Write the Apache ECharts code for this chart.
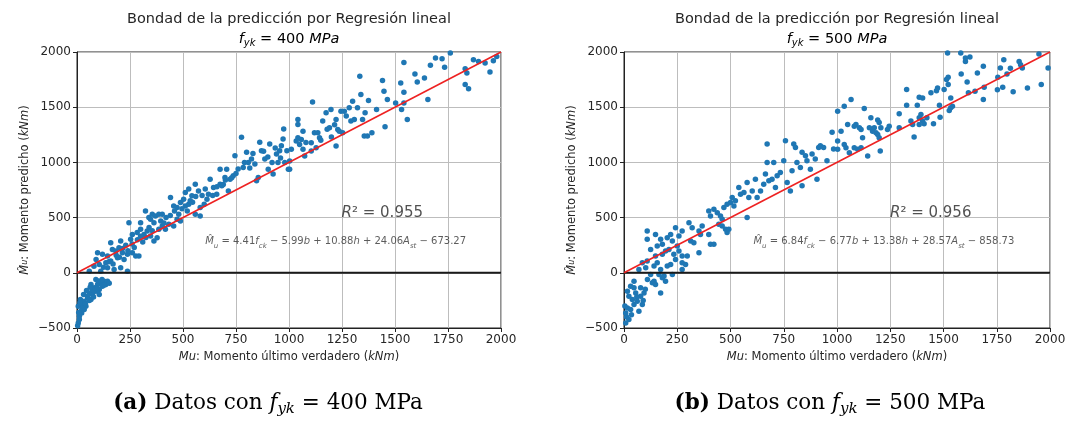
<!DOCTYPE html>
<html><head><meta charset="utf-8">
<script src="https://cdn.jsdelivr.net/npm/echarts@6/dist/echarts.min.js"></script>
<style>html,body{margin:0;padding:0;background:#fff}#c{width:1070px;height:421px}</style>
</head><body><div id="c"></div>
<script>
// ---------- data ----------
const xTicks = [0, 250, 500, 750, 1000, 1250, 1500, 1750, 2000];
const yTicks = [-500, 0, 500, 1000, 1500, 2000];
const fykValues = [400, 500];
const r2Values = ['0.955', '0.956'];
const coefs400 = ['4.41', '5.99', '10.88', '24.06', '673.27'];
const coefs500 = ['6.84', '6.77', '13.38', '28.57', '858.73'];
const identityLine = [[0, 0], [2000, 2000]];
const zeroLine = [[0, 0], [2000, 0]];

const points400 = [
[6,-455],[11,-394],[19,-348],[6,-303],[27,-288],[16,-242],[34,-258],[50,-227],[42,-303],[58,-182],[73,-197],[81,-136],[89,-167],[97,-106],[105,-152],[112,-91],[120,-121],[128,-76],[136,-106],[144,-76],[66,-242],[31,-197],[50,-212],[89,-61],[22,-364],[11,-424],[34,-333],[66,-106],[105,-197],[73,-152],[3,-480],[14,-270],[45,-160],[62,-130],[95,-140],[118,-60],[40,-280],[25,-320],[78,-220],[130,-110],[152,-95],[100,-75],[8,-360],[58,-250],
[58,15],[112,15],[144,45],[175,30],[206,45],[238,15],[105,76],[136,91],[159,106],[97,182],[120,167],[144,152],[167,212],[183,197],[198,227],[191,136],[222,121],[214,182],[238,167],[261,182],[277,152],[292,152],[159,273],[206,288],[253,303],[261,348],[284,364],[300,394],[316,348],[331,379],[347,333],[363,288],[378,318],[386,394],[402,424],[417,394],[433,439],[456,424],[472,485],[488,470],[245,454],[300,454],[323,560],[339,500],[355,530],[370,515],[386,530],[402,530],[347,485],[363,454],[441,682],[456,606],[472,591],[488,636],[503,667],[511,606],[527,621],[534,652],[511,727],[527,758],[542,697],[558,803],[573,742],[581,591],[581,515],[558,530],[605,758],[613,667],[620,712],[628,848],[644,773],[659,712],[675,803],[675,939],[683,788],[698,864],[706,939],[714,742],[722,848],[737,879],[745,1060],[776,1227],[784,954],[800,1091],[808,1000],[823,1030],[839,985],[847,833],[855,864],[862,1182],[870,1106],[886,1030],[902,939],[909,1167],[925,894],[941,1076],[948,1000],[956,1106],[964,1150],[972,1212],[975,1303],[990,1106],[997,939],
[80,60],[90,120],[125,50],[150,100],[170,80],[185,160],[200,140],[215,220],[230,250],[240,200],[260,260],[270,230],[285,300],[300,330],[310,280],[325,320],[340,410],[355,380],[395,470],[410,450],[420,500],[440,520],[460,560],[480,530],[495,580],[520,560],[545,640],[560,690],[590,700],[600,620],[640,700],[660,780],[690,800],[700,840],[730,860],[750,900],[760,940],[790,1000],[815,950],[830,1080],[880,1100],[900,1050],[920,1000],[935,1130],[960,1040],[980,1000],
[1003,1012],[1003,937],[1011,1118],[1034,1193],[1042,1223],[1058,1208],[1050,1163],[1066,1118],[1066,1283],[1042,1389],[1042,1343],[1074,1057],[1105,1178],[1105,1103],[1120,1268],[1136,1268],[1128,1133],[1144,1223],[1111,1548],[1159,1374],[1175,1449],[1191,1313],[1198,1479],[1222,1389],[1222,1148],[1230,1298],[1237,1283],[1245,1464],[1261,1464],[1253,1268],[1284,1494],[1292,1374],[1300,1554],[1308,1389],[1323,1494],[1339,1614],[1334,1780],[1347,1389],[1359,1449],[1355,1238],[1370,1238],[1375,1560],[1391,1268],[1413,1479],[1441,1741],[1448,1644],[1453,1322],[1464,1569],[1503,1539],[1527,1720],[1531,1479],[1542,1906],[1542,1635],[1542,1539],[1558,1389],[1594,1801],[1605,1729],[1639,1765],[1655,1569],[1667,1879],[1691,1945],[1722,1939],[1734,1861],[1761,1991],[1831,1849],[1839,1810],[1831,1705],[1847,1666],[1870,1930],[1894,1915],[1925,1900],[1948,1819],[1964,1921],[1980,1960],
[1080,1180],[1150,1200],[1180,1300],[1200,1230],[1215,1340],[1270,1420]
];

const points500 = [
[8,-455],[23,-424],[8,-364],[16,-318],[31,-333],[47,-288],[39,-242],[23,-212],[55,-182],[70,-348],[62,-258],[78,-212],[86,-288],[94,-182],[47,-76],[47,-136],[133,-91],[141,-76],[148,-106],[172,-182],[180,-45],[188,-30],[195,-76],[164,-15],[227,-15],[125,-15],[31,-121],[16,-167],[78,-136],[4,-300],[12,-400],[60,-220],[100,-150],[110,-60],[35,-380],[90,-250],
[70,30],[102,45],[109,106],[86,91],[141,61],[156,91],[172,30],[203,61],[219,76],[273,30],[273,91],[242,121],[289,76],[148,152],[180,167],[195,197],[211,212],[234,167],[250,242],[258,197],[273,152],[297,152],[125,212],[156,242],[180,258],[203,318],[219,348],[109,303],[109,379],[148,348],[172,303],[227,288],[242,409],[258,333],[273,379],[305,454],[320,409],[313,288],[328,273],[352,379],[359,348],[352,182],[367,424],[398,348],[406,258],[422,258],[398,560],[406,515],[422,576],[438,545],[453,515],[461,485],[445,439],[461,424],[477,394],[484,364],[492,394],[469,591],[484,621],[500,636],[516,606],[508,682],[523,652],[539,773],[547,712],[563,727],[578,818],[578,500],[586,682],[602,742],[617,848],[625,682],[641,742],[656,803],[664,894],[672,1000],[672,1167],[680,833],[695,848],[703,1000],[711,773],[719,879],[734,909],[750,1015],[758,1197],[766,818],[781,742],[789,924],[797,1167],[805,1136],[812,1000],[828,954],[836,1091],[836,788],[852,1060],[859,1015],[875,939],[883,1076],[898,1030],[906,848],[914,1136],[922,1151],[937,1136],[953,1015],[977,1273],[984,1121],
[1003,1464],[1003,1193],[1003,1118],[1034,1509],[1066,1569],[1019,1283],[1050,1343],[1034,1163],[1042,1133],[1058,1088],[1081,1328],[1089,1343],[1081,1133],[1097,1118],[1113,1133],[1105,1313],[1113,1298],[1120,1223],[1128,1488],[1144,1057],[1152,1313],[1159,1404],[1167,1283],[1175,1313],[1183,1268],[1191,1253],[1198,1223],[1191,1383],[1198,1362],[1206,1313],[1203,1103],[1237,1298],[1245,1328],[1292,1440],[1292,1313],[1327,1660],[1327,1518],[1347,1374],[1355,1343],[1362,1229],[1377,1518],[1386,1590],[1402,1584],[1386,1343],[1394,1434],[1402,1374],[1386,1404],[1409,1349],[1422,1404],[1441,1630],[1453,1349],[1467,1650],[1472,1675],[1481,1518],[1484,1410],[1503,1660],[1514,1750],[1522,1771],[1519,1991],[1522,1705],[1527,1470],[1534,1494],[1534,1584],[1542,1509],[1581,1991],[1583,1801],[1603,1915],[1603,1945],[1624,1954],[1611,1729],[1617,1630],[1648,1644],[1659,1810],[1687,1870],[1691,1680],[1687,1569],[1753,1659],[1755,1771],[1767,1855],[1778,1680],[1783,1930],[1798,1801],[1814,1852],[1827,1640],[1855,1915],[1862,1885],[1870,1855],[1894,1675],[1948,1982],[1959,1705],[1991,1855]
];

// ---------- styling / layout ----------
const SANS = 'DejaVu Sans';
const SERIF = 'DejaVu Serif';
const TXT = '#262626';
const grids = [
  {left: 77, top: 52, width: 424, height: 276},
  {left: 624, top: 52, width: 426, height: 276}
];
const centers = [289, 837];
const capCenters = [268, 830];

function fmtNum(v){ return v < 0 ? '\u2212' + Math.abs(v) : String(v); }

const axisNameRich = {
  n: {fontFamily: SANS, fontSize: 11.5, color: TXT},
  i: {fontFamily: SANS, fontSize: 11.5, fontStyle: 'italic', color: TXT},
  s: {fontFamily: SANS, fontSize: 8, fontStyle: 'italic', color: TXT}
};
const eqRich = {
  n: {fontFamily: SANS, fontSize: 10, color: '#333', lineHeight: 16},
  i: {fontFamily: SANS, fontSize: 10, fontStyle: 'italic', color: '#333', lineHeight: 16},
  s: {fontFamily: SANS, fontSize: 7, fontStyle: 'italic', color: '#333', lineHeight: 10, verticalAlign: 'bottom'}
};
const r2Rich = {
  n: {fontFamily: SANS, fontSize: 15, color: TXT},
  i: {fontFamily: SANS, fontSize: 15, fontStyle: 'italic', color: TXT}
};

function eqText(c){
  return '{i|M\u0302}{s|u}{n| = ' + c[0] + '}{i|f}{s|ck}{n| \u2212 ' + c[1] + '}{i|b}{n| + ' + c[2] +
         '}{i|h}{n| + ' + c[3] + '}{i|A}{s|st}{n| \u2212 ' + c[4] + '}';
}

const xAxes = [], yAxes = [], series = [], graphics = [];
const allPoints = [points400, points500];
const allCoefs = [coefs400, coefs500];

for (let k = 0; k < 2; k++) {
  xAxes.push({
    type: 'value', gridIndex: k, min: xTicks[0], max: xTicks[xTicks.length-1], interval: xTicks[1]-xTicks[0],
    name: '{i|Mu}{n|: Momento último verdadero (}{i|kNm}{n|)}',
    nameLocation: 'middle', nameGap: 19,
    nameTextStyle: {rich: axisNameRich},
    axisLine: {show: true, onZero: false, lineStyle: {color: '#222', width: 1}},
    axisTick: {show: true, length: 4, lineStyle: {color: '#222'}},
    axisLabel: {fontFamily: SANS, fontSize: 12, color: TXT, margin: 6, formatter: fmtNum},
    splitLine: {show: true, lineStyle: {color: '#bdbdbd', width: 1}}
  });
  yAxes.push({
    type: 'value', gridIndex: k, min: yTicks[0], max: yTicks[yTicks.length-1], interval: yTicks[1]-yTicks[0],
    name: '{i|M\u0302}{s|u}{n|: Momento predicho (}{i|kNm}{n|)}',
    nameLocation: 'middle', nameGap: 46,
    nameTextStyle: {rich: axisNameRich},
    axisLine: {show: true, onZero: false, lineStyle: {color: '#222', width: 1}},
    axisTick: {show: true, length: 4, lineStyle: {color: '#222'}},
    axisLabel: {fontFamily: SANS, fontSize: 12, color: TXT, margin: 6, formatter: fmtNum},
    splitLine: {show: true, lineStyle: {color: '#bdbdbd', width: 1}}
  });
  series.push({
    type: 'scatter', xAxisIndex: k, yAxisIndex: k, data: allPoints[k],
    symbolSize: 5.5, itemStyle: {color: '#1f77b4', opacity: 1}, z: 2, silent: true
  });
  series.push({
    type: 'line', xAxisIndex: k, yAxisIndex: k, data: zeroLine, showSymbol: false, symbol: 'none',
    lineStyle: {color: '#1a1a1a', width: 2}, z: 3, silent: true
  });
  series.push({
    type: 'line', xAxisIndex: k, yAxisIndex: k, data: identityLine, showSymbol: false, symbol: 'none',
    lineStyle: {color: '#ee2222', width: 1.6}, z: 4, silent: true
  });
  // annotations anchored in data units
  series.push({
    type: 'scatter', xAxisIndex: k, yAxisIndex: k, symbolSize: 0, z: 5, silent: true,
    data: [{value: [1440, 545], label: {show: true, position: 'inside', formatter: '{i|R}{n|\u00b2 = ' + r2Values[k] + '}', rich: r2Rich}},
           {value: [1220, 285], label: {show: true, position: 'inside', formatter: eqText(allCoefs[k]), rich: eqRich}}]
  });
  // titles
  graphics.push({type: 'text', x: centers[k], y: 19, style: {
    text: 'Bondad de la predicción por Regresión lineal', font: '14.5px ' + SANS, fill: TXT,
    textAlign: 'center', textVerticalAlign: 'middle'}});
  graphics.push({type: 'text', x: centers[k], y: 39, style: {
    text: '{i|f}{s|yk}{n| = ' + fykValues[k] + ' }{i|MPa}', textAlign: 'center', textVerticalAlign: 'middle',
    rich: {
      n: {fontFamily: SANS, fontSize: 14.5, color: TXT, lineHeight: 18},
      i: {fontFamily: SANS, fontSize: 14.5, fontStyle: 'italic', color: TXT, lineHeight: 18},
      s: {fontFamily: SANS, fontSize: 10, fontStyle: 'italic', color: TXT, lineHeight: 12, verticalAlign: 'bottom'}
    }}});
  // captions
  graphics.push({type: 'text', x: capCenters[k], y: 403, style: {
    text: '{b|(' + (k === 0 ? 'a' : 'b') + ')}{n| Datos con }{i|f}{s|yk}{n| = ' + fykValues[k] + ' MPa}',
    textAlign: 'center', textVerticalAlign: 'middle',
    rich: {
      b: {fontFamily: SERIF, fontSize: 21.5, fontWeight: 'bold', color: '#111', lineHeight: 28},
      n: {fontFamily: SERIF, fontSize: 21.5, color: '#111', lineHeight: 28},
      i: {fontFamily: SERIF, fontSize: 21.5, fontStyle: 'italic', color: '#111', lineHeight: 28},
      s: {fontFamily: SERIF, fontSize: 15, fontStyle: 'italic', color: '#111', lineHeight: 16, verticalAlign: 'bottom'}
    }}});
}

const chart = echarts.init(document.getElementById('c'), null, {renderer: 'canvas'});
chart.setOption({
  animation: false,
  backgroundColor: '#fff',
  grid: grids.map(g => Object.assign({show: true, borderColor: '#222', borderWidth: 1, backgroundColor: 'transparent'}, g)),
  xAxis: xAxes,
  yAxis: yAxes,
  series: series,
  graphic: graphics
});
</script></body></html>
